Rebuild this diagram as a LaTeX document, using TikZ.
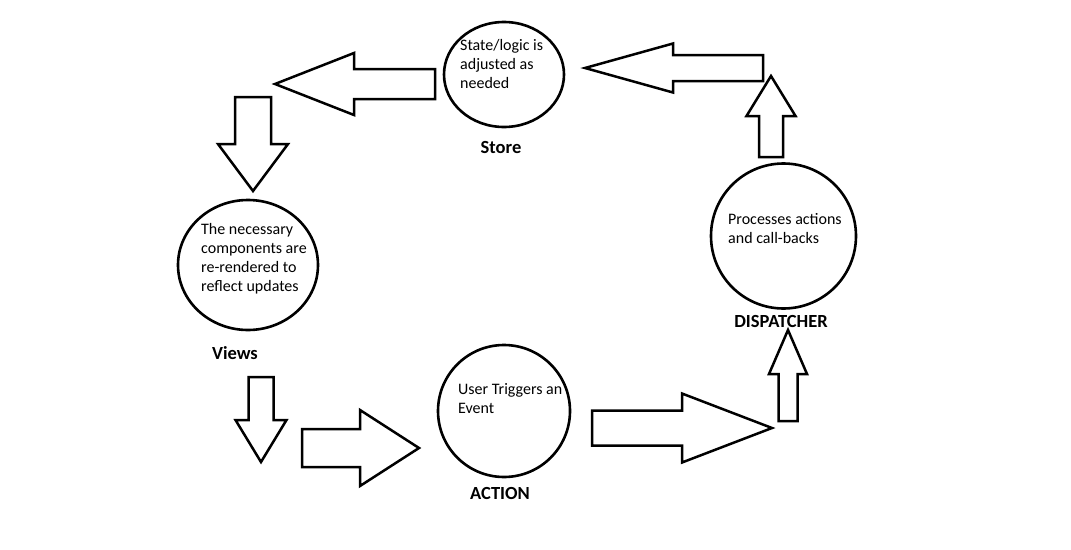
\documentclass[tikz,border=0pt]{standalone}
\usepackage{fontspec}
\setmainfont{Carlito}
\usepackage{tikz}
\usetikzlibrary{shapes.geometric}
\tikzset{
  bubble/.style={ellipse,draw,line width=2.6pt,inner sep=0pt},
  bubbletxt/.style={anchor=base west,align=left,inner sep=0pt,font=\fontsize{16}{19}\selectfont},
  steplbl/.style={inner sep=0pt,font=\fontsize{18.5}{22}\selectfont\bfseries},
  blockarr/.style={draw,fill=white,line width=2.5pt,line join=miter}
}

\begin{document}
\begin{tikzpicture}[x=1pt,y=-1pt]
\useasboundingbox[fill=white] (0,0) rectangle (1071,549);
% the four stages
\node[bubble,minimum width=120pt,minimum height=105pt] (store) at (504,74.5) {};
\node[bubble,minimum width=140pt,minimum height=130pt] (views) at (248,265) {};
\node[bubble,minimum width=132pt,minimum height=132pt] (action) at (504,411) {};
\node[bubble,minimum width=145pt,minimum height=145pt] (disp) at (783.5,236) {};
% texts sit on the baseline of their last line
\node[bubbletxt] (storetxt) at (460,88) {State/logic is\\adjusted as\\needed};
\node[bubbletxt] (viewstxt) at (201,291) {The necessary\\components are\\re-rendered to\\reflect updates};
\node[bubbletxt] (actiontxt) at (458,413) {User Triggers an\\Event};
\node[bubbletxt] (disptxt) at (728,243) {Processes actions\\and call-backs};
\node[steplbl] (storelbl) at (501,147) {Store};
\node[steplbl] (viewslbl) at (235,353) {Views};
\node[steplbl] (actionlbl) at (500,493) {ACTION};
\node[steplbl] (displbl) at (781,321) {DISPATCHER};
% block arrows: tip x / tip y / rotation / length / head length / shaft half / head half
\foreach \tx/\ty/\rot/\len/\hl/\sh/\hh in {275/84/180/160/79/15/31, 253/191/-90/94/47/18/35,
  261/462/-90/85/42/12.5/25.5, 419/448/0/117/59/19/38, 772/428/0/180/90/17.5/34.5,
  788/330/90/91/44/9.5/19, 771/76/90/81/40/12/24.5, 585/68/180/178/88/13/24.5} {
  \draw[blockarr,shift={(\tx,\ty)},rotate=\rot] (0,0) -- (-\hl,\hh) -- (-\hl,\sh) -- (-\len,\sh)
    -- (-\len,-\sh) -- (-\hl,-\sh) -- (-\hl,-\hh) -- cycle;
}
\end{tikzpicture}
\end{document}
